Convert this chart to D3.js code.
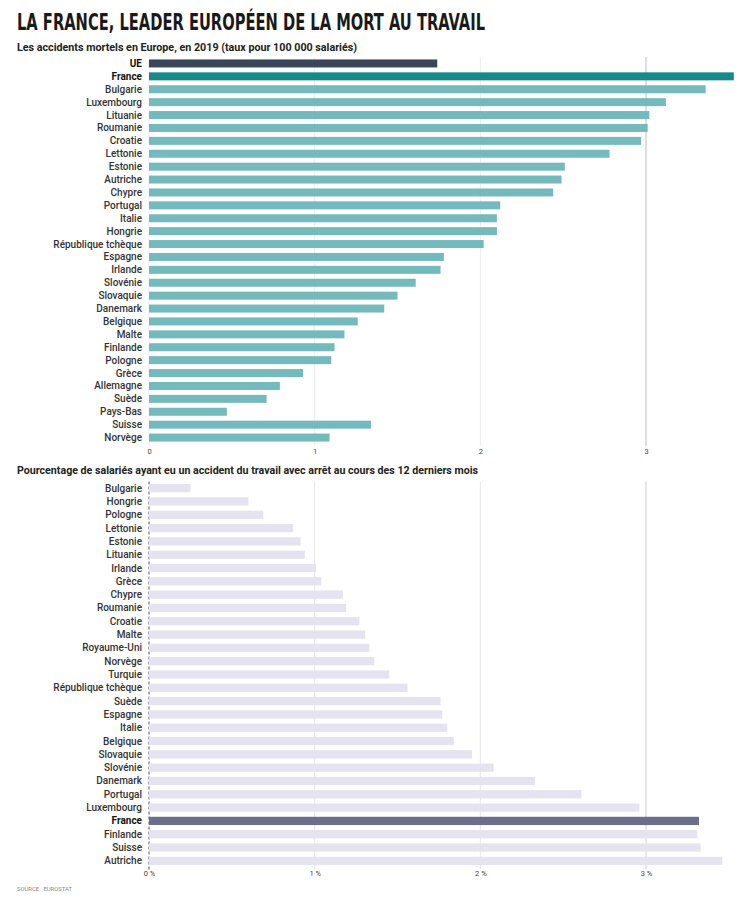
<!DOCTYPE html>
<html><head><meta charset="utf-8">
<script src="https://cdn.jsdelivr.net/npm/d3@7"></script>
<style>
body{margin:0;background:#fff;}
svg text{font-family:"Roboto","Liberation Sans",sans-serif;}
</style></head>
<body><svg id="c" width="750" height="906"></svg>
<script>
// ---- Data ----
const fatalCountries = ["UE","France","Bulgarie","Luxembourg","Lituanie","Roumanie","Croatie","Lettonie","Estonie","Autriche","Chypre","Portugal","Italie","Hongrie","République tchèque","Espagne","Irlande","Slovénie","Slovaquie","Danemark","Belgique","Malte","Finlande","Pologne","Grèce","Allemagne","Suède","Pays-Bas","Suisse","Norvège"];
const fatalValues = [1.74,3.53,3.36,3.12,3.02,3.01,2.97,2.78,2.51,2.49,2.44,2.12,2.10,2.10,2.02,1.78,1.76,1.61,1.50,1.42,1.26,1.18,1.12,1.10,0.93,0.79,0.71,0.47,1.34,1.09];
const fatalTicks = [0,1,2,3];

const injCountries = ["Bulgarie","Hongrie","Pologne","Lettonie","Estonie","Lituanie","Irlande","Grèce","Chypre","Roumanie","Croatie","Malte","Royaume-Uni","Norvège","Turquie","République tchèque","Suède","Espagne","Italie","Belgique","Slovaquie","Slovénie","Danemark","Portugal","Luxembourg","France","Finlande","Suisse","Autriche"];
const injValues = [0.25,0.60,0.69,0.87,0.915,0.94,1.01,1.04,1.17,1.19,1.27,1.305,1.33,1.36,1.45,1.56,1.76,1.77,1.80,1.84,1.95,2.08,2.33,2.61,2.96,3.32,3.31,3.33,3.46];
const injTicks = [0,1,2,3];

const title = "LA FRANCE, LEADER EUROPÉEN DE LA MORT AU TRAVAIL";
const sub1 = "Les accidents mortels en Europe, en 2019 (taux pour 100 000 salariés)";
const sub2 = "Pourcentage de salariés ayant eu un accident du travail avec arrêt au cours des 12 derniers mois";
const source = "SOURCE : EUROSTAT";

// ---- Drawing ----
const svg = d3.select("#c");
svg.append("text").attr("x",17).attr("y",30).text(title)
  .attr("font-size",23).attr("font-weight",900).attr("fill","#1a1a1a")
  .style("font-family","'DejaVu Sans Condensed','DejaVu Sans',sans-serif")
  .attr("textLength",468).attr("lengthAdjust","spacingAndGlyphs");
svg.append("text").attr("x",17).attr("y",51).text(sub1)
  .attr("font-size",11.5).attr("font-weight",700).attr("fill","#222")
  .attr("textLength",340).attr("lengthAdjust","spacingAndGlyphs");
svg.append("text").attr("x",17).attr("y",474).text(sub2)
  .attr("font-size",11.5).attr("font-weight",700).attr("fill","#222")
  .attr("textLength",461).attr("lengthAdjust","spacingAndGlyphs");
svg.append("text").attr("x",17).attr("y",891).text(source)
  .attr("font-size",6).attr("fill","#888").attr("textLength",55).attr("lengthAdjust","spacingAndGlyphs");

const x = d3.scaleLinear().domain([0,3]).range([149,646]);

function panel(cats, vals, ticks, y0, y1, colorFn, boldSet, gridColor, tickFmt, axisY, dashedBase){
  const y = d3.scaleBand().domain(cats).range([y0,y1]).paddingInner(0.38).paddingOuter(0.19);
  const g = svg.append("g");
  g.selectAll("line.grid").data(ticks.filter(t=>t>0)).join("line")
    .attr("x1",d=>x(d)).attr("x2",d=>x(d)).attr("y1",y0).attr("y2",y1+2)
    .attr("stroke",(d)=>gridColor(d)).attr("stroke-width",1);
  g.append("line").attr("x1",x(0)).attr("x2",x(0)).attr("y1",y0).attr("y2",y1+2)
    .attr("stroke",dashedBase?"#555":"#eee").attr("stroke-dasharray",dashedBase?"3,2":null).attr("stroke-width",1);
  g.selectAll("rect").data(cats).join("rect")
    .attr("x",x(0)).attr("y",d=>y(d)).attr("height",y.bandwidth())
    .attr("width",(d,i)=>x(vals[i])-x(0)).attr("fill",(d,i)=>colorFn(d));
  g.selectAll("text.lab").data(cats).join("text")
    .attr("x",142).attr("y",d=>y(d)+y.bandwidth()/2).attr("dy","0.35em")
    .attr("text-anchor","end").attr("font-size",10)
    .attr("font-weight",d=>boldSet.includes(d)?700:500)
    .attr("fill",d=>boldSet.includes(d)?"#111":"#333").text(d=>d);
  const ax = d3.axisBottom(x).tickValues(ticks).tickFormat(tickFmt).tickSize(0).tickPadding(4);
  const a = svg.append("g").attr("transform",`translate(0,${axisY})`).call(ax);
  a.select(".domain").remove();
  a.selectAll("text").attr("font-size",7.5).attr("fill","#444");
}

panel(fatalCountries, fatalValues, fatalTicks, 57, 444,
  d=> d==="UE" ? "#39465a" : d==="France" ? "#16898b" : "#74b9bc",
  ["UE","France"], d=> d===3 ? "#bdbdbd" : "#ececec", d=>String(d), 445, false);

panel(injCountries, injValues, injTicks, 481.5, 867.5,
  d=> d==="France" ? "#6e6e8c" : "#e4e3ef",
  ["France"], d=> d===3 ? "#cfcfcf" : "#e6e6e6", d=>d+" %", 867, true);
</script></body></html>
